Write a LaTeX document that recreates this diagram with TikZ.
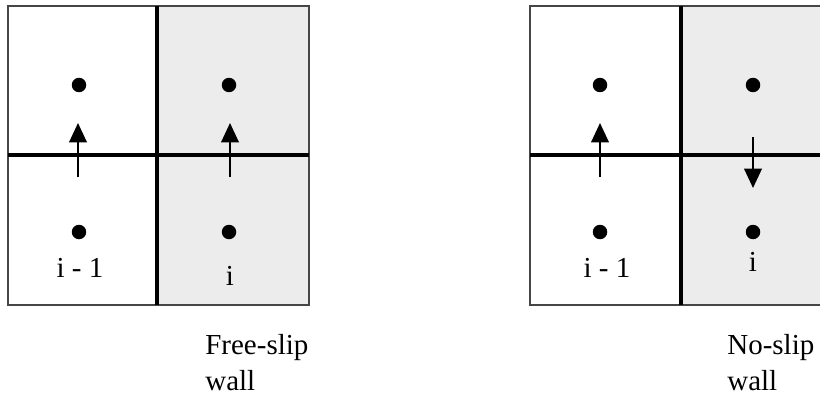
\documentclass[tikz,border=0pt]{standalone}
\usepackage{fontspec}
\setmainfont{Liberation Serif}
\usetikzlibrary{arrows.meta,positioning}

\definecolor{marblegray}{RGB}{236,236,236}

\begin{document}
\begin{tikzpicture}[
  x=0.02cm, y=-0.02cm,
  frame/.style={draw=gray!55!black, line width=1.2pt},
  marble/.style={fill=marblegray},
  face/.style={line width=2.2pt},
  centre/.style={circle, fill=black, inner sep=0pt, minimum size=0.29cm},
  vel/.style={-{Triangle[length=11pt, width=10pt]}, line width=1.1pt},
  idx/.style={font=\fontsize{16.5}{19}\selectfont, inner sep=0pt},
  caption/.style={font=\fontsize{16.5}{20.4}\selectfont, align=left, anchor=north west, inner sep=0pt}
]
\path[use as bounding box, clip] (0,0) rectangle (820,395);

% free-slip wall
\fill[marble] (157,6) rectangle (309,305);
\draw[frame] (8,6) rectangle (309,305);
\draw[face] (157,6) -- (157,305);
\draw[face] (8,155) -- (309,155);

\node[centre] (fa1) at (79,85) {};
\node[centre] (fa2) at (79,232) {};
\node[centre] (fb1) at (229,85) {};
\node[centre] (fb2) at (229,232) {};

\coordinate (fua) at (78,177);
\coordinate (fva) at (78,123);
\coordinate (fub) at (230,177);
\coordinate (fvb) at (230,123);
\draw[vel] (fua) -- (fva);
\draw[vel] (fub) -- (fvb);

\node[idx] (fim) at (80,268) {i - 1};
\node[idx] (fi) at (230,276) {i};
\node[caption] (fcap) at (205,334) {Free-slip\\wall};

% no-slip wall
\fill[marble] (681,6) rectangle (830,305);
\draw[frame] (530,6) rectangle (830,305);
\draw[face] (681,6) -- (681,305);
\draw[face] (530,155) -- (830,155);

\node[centre] (na1) at (600,85) {};
\node[centre] (na2) at (600,232) {};
\node[centre] (nb1) at (753,85) {};
\node[centre] (nb2) at (753,232) {};

\coordinate (nua) at (600,177);
\coordinate (nva) at (600,123);
\coordinate (nub) at (753,137);
\coordinate (nvb) at (753,188);
\draw[vel] (nua) -- (nva);
\draw[vel] (nub) -- (nvb);

\node[idx] (nim) at (607,268) {i - 1};
\node[idx] (ni) at (753,262) {i};
\node[caption] (ncap) at (727,334) {No-slip\\wall};
\end{tikzpicture}
\end{document}
